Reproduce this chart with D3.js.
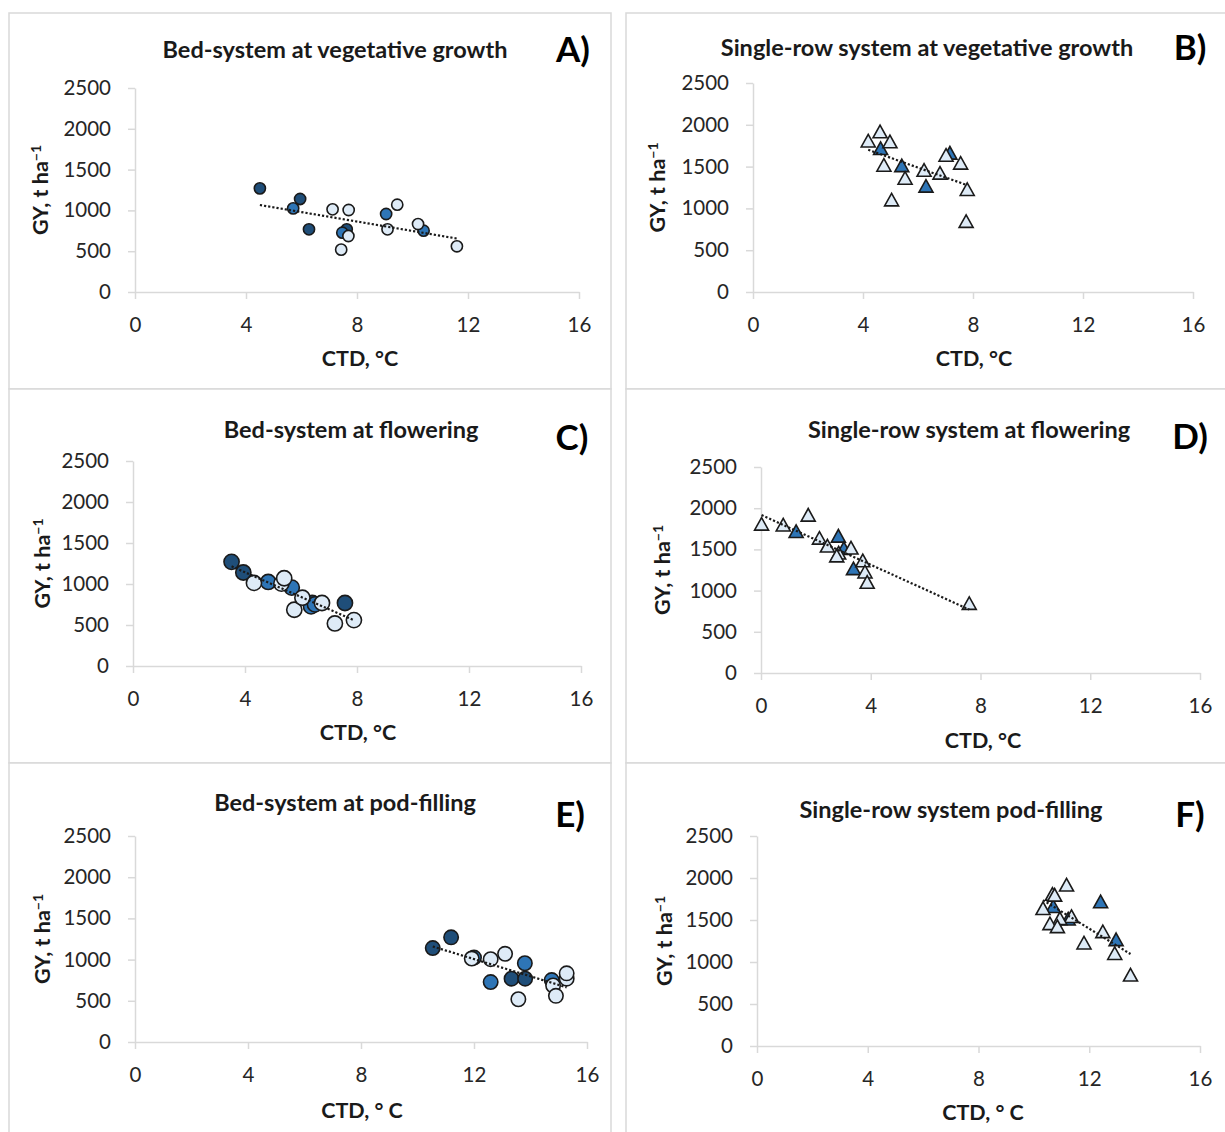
<!DOCTYPE html>
<html>
<head>
<meta charset="utf-8">
<script src="https://cdn.jsdelivr.net/npm/d3@7"></script>
<style>
  body { margin: 0; background: #fff; }
  svg { display: block; font-family: Lato, "Open Sans", sans-serif; }
</style>
</head>
<body>
<div id="chart"></div>
<script>
// bed system: 16 genotypes, grouped by shade
const bedGroup = ["dark", "dark", "dark", "dark", "mid", "mid", "mid", "mid",
  "light", "light", "light", "light", "light", "light", "light", "light"];
const bedGY = [1270, 1140, 768, 768, 1025, 727, 956, 751, 1013, 1005, 686, 519, 1070, 768, 833, 560];
const bedCTDveg = [4.5, 5.95, 6.27, 7.63, 5.7, 7.47, 9.05, 10.4, 7.12, 7.7, 7.69, 7.43, 9.45, 9.1, 10.2, 11.6];
const bedCTDflower = [3.52, 3.94, 7.57, 6.4, 4.83, 6.36, 5.67, 6.5, 4.32, 5.3, 5.76, 7.21, 5.4, 6.75, 6.05, 7.89];
const bedCTDpod = [11.19, 10.54, 13.33, 13.81, 12.0, 12.59, 13.8, 14.75, 11.92, 12.59, 14.8, 13.57, 13.1, 15.28, 15.28, 14.9];

// single-row system
const rowGroup = ["mid", "mid", "mid", "mid",
  "light", "light", "light", "light", "light", "light", "light", "light", "light", "light", "light", "light"];
const rowGY = [1720, 1665, 1515, 1270, 1920, 1810, 1800, 1640, 1545, 1520, 1460, 1425, 1365, 1230, 1105, 848];
const rowCTDveg = [4.64, 7.16, 5.41, 6.29, 4.62, 4.19, 4.98, 7.02, 7.55, 4.76, 6.22, 6.8, 5.53, 7.79, 5.04, 7.75];
const rowCTDflower = [1.28, 2.82, 3.02, 3.37, 1.72, 0.02, 0.81, 2.13, 2.42, 3.28, 2.83, 2.76, 3.71, 3.79, 3.87, 7.59];
const rowCTDpod = [12.41, 10.7, 11.24, 12.97, 11.18, 10.67, 10.75, 10.33, 11.36, 10.94, 10.58, 10.85, 12.49, 11.81, 12.92, 13.49];

const xTicks = [0, 4, 8, 12, 16];
const yTicks = [0, 500, 1000, 1500, 2000, 2500];

const colors = { dark: "#1f4e79", mid: "#2e75b6", light: "#deebf7" };
const groupOrder = ["dark", "mid", "light"];

const panels = [
  { letter: "A)", title: "Bed-system at vegetative growth", xLabel: "CTD, °C",
    x: bedCTDveg, y: bedGY, g: bedGroup, shape: "circle", size: 5.6,
    frame: [9, 13, 602, 376], plot: [135, 579, 88, 292],
    titlePos: [335, 50], letterPos: [573, 50], xLabelPos: [360, 358], yLabelX: 40 },
  { letter: "B)", title: "Single-row system at vegetative growth", xLabel: "CTD, °C",
    x: rowCTDveg, y: rowGY, g: rowGroup, shape: "triangle", size: 14,
    frame: [626, 13, 620, 376], plot: [753, 1193, 83, 292],
    titlePos: [927, 48], letterPos: [1190, 48], xLabelPos: [974, 358], yLabelX: 657 },
  { letter: "C)", title: "Bed-system at flowering", xLabel: "CTD, °C",
    x: bedCTDflower, y: bedGY, g: bedGroup, shape: "circle", size: 7.6,
    frame: [9, 389, 602, 374], plot: [133, 581, 461, 666],
    titlePos: [351, 430], letterPos: [572, 438], xLabelPos: [358, 732], yLabelX: 42 },
  { letter: "D)", title: "Single-row system at flowering", xLabel: "CTD, °C",
    x: rowCTDflower, y: rowGY, g: rowGroup, shape: "triangle", size: 14,
    frame: [626, 389, 620, 374], plot: [761, 1200, 467, 673],
    titlePos: [969, 430], letterPos: [1190, 437], xLabelPos: [983, 740], yLabelX: 662 },
  { letter: "E)", title: "Bed-system at pod-filling", xLabel: "CTD, ° C",
    x: bedCTDpod, y: bedGY, g: bedGroup, shape: "circle", size: 7.2,
    frame: [9, 763, 602, 400], plot: [135, 587, 836, 1042],
    titlePos: [345, 803], letterPos: [570, 815], xLabelPos: [362, 1110], yLabelX: 42 },
  { letter: "F)", title: "Single-row system pod-filling", xLabel: "CTD, ° C",
    x: rowCTDpod, y: rowGY, g: rowGroup, shape: "triangle", size: 14,
    frame: [626, 763, 620, 400], plot: [757, 1200, 836, 1046],
    titlePos: [951, 810], letterPos: [1190, 815], xLabelPos: [983, 1112], yLabelX: 664 }
];

const svg = d3.select("#chart").append("svg")
  .attr("width", 1225)
  .attr("height", 1132);

function fitLine(xs, ys) {
  let n = xs.length;
  let mx = d3.mean(xs), my = d3.mean(ys);
  let sxy = 0, sxx = 0;
  for (let i = 0; i < n; i++) {
    sxy += (xs[i] - mx) * (ys[i] - my);
    sxx += (xs[i] - mx) * (xs[i] - mx);
  }
  let b = sxy / sxx;
  return { b: b, a: my - b * mx };
}

function triangle(w) {
  let h = w * 0.9;
  return "M0," + (-h / 2) + "L" + (w / 2) + "," + (h / 2) + "L" + (-w / 2) + "," + (h / 2) + "Z";
}

panels.forEach(function(p) {
  let g = svg.append("g");

  g.append("rect")
    .attr("x", p.frame[0]).attr("y", p.frame[1])
    .attr("width", p.frame[2]).attr("height", p.frame[3])
    .attr("fill", "#fff")
    .attr("stroke", "#d9d9d9")
    .attr("stroke-width", 1.5);

  let x = d3.scaleLinear().domain([0, 16]).range([p.plot[0], p.plot[1]]);
  let y = d3.scaleLinear().domain([0, 2500]).range([p.plot[3], p.plot[2]]);

  let xAxis = g.append("g")
    .attr("transform", "translate(0," + p.plot[3] + ")")
    .call(d3.axisBottom(x).tickValues(xTicks).tickFormat(d3.format("d"))
      .tickSize(7).tickSizeOuter(0).tickPadding(18));
  let yAxis = g.append("g")
    .attr("transform", "translate(" + p.plot[0] + ",0)")
    .call(d3.axisLeft(y).tickValues(yTicks).tickFormat(d3.format("d"))
      .tickSize(7).tickSizeOuter(0).tickPadding(17));

  [xAxis, yAxis].forEach(function(ax) {
    ax.select(".domain").attr("stroke", "#d9d9d9").attr("stroke-width", 1.5);
    ax.selectAll(".tick line").attr("stroke", "#d9d9d9").attr("stroke-width", 1.5);
    ax.selectAll(".tick text")
      .attr("fill", "#262626")
      .style("font-family", "Lato, sans-serif")
      .style("font-size", "20.5px");
  });

  // points, drawn group by group so the light ones sit on top
  let pts = p.x.map(function(v, i) { return { cx: v, gy: p.y[i], grp: p.g[i] }; });
  pts.sort(function(a, b) { return groupOrder.indexOf(a.grp) - groupOrder.indexOf(b.grp); });

  let marks = g.append("g");
  if (p.shape === "circle") {
    marks.selectAll("circle")
      .data(pts)
      .enter()
      .append("circle")
      .attr("cx", d => x(d.cx))
      .attr("cy", d => y(d.gy))
      .attr("r", p.size)
      .attr("fill", d => colors[d.grp])
      .attr("stroke", "#1a1a1a")
      .attr("stroke-width", 1.6);
  } else {
    marks.selectAll("path")
      .data(pts)
      .enter()
      .append("path")
      .attr("d", triangle(p.size))
      .attr("transform", d => "translate(" + x(d.cx) + "," + y(d.gy) + ")")
      .attr("fill", d => colors[d.grp])
      .attr("stroke", "#1a1a1a")
      .attr("stroke-width", 1.6)
      .attr("stroke-linejoin", "miter");
  }

  // linear trendline over all points
  let fit = fitLine(p.x, p.y);
  let x0 = d3.min(p.x), x1 = d3.max(p.x);
  g.append("line")
    .attr("x1", x(x0)).attr("y1", y(fit.a + fit.b * x0))
    .attr("x2", x(x1)).attr("y2", y(fit.a + fit.b * x1))
    .attr("stroke", "#1a1a1a")
    .attr("stroke-width", 2.2)
    .attr("stroke-dasharray", "2.2,2");

  g.append("text")
    .attr("x", p.titlePos[0]).attr("y", p.titlePos[1])
    .attr("dy", "0.35em")
    .attr("text-anchor", "middle")
    .style("font-size", "23.5px")
    .style("font-weight", "bold")
    .attr("fill", "#1a1a1a")
    .text(p.title);

  g.append("text")
    .attr("x", p.letterPos[0]).attr("y", p.letterPos[1])
    .attr("dy", "0.35em")
    .attr("text-anchor", "middle")
    .style("font-size", "35px")
    .style("font-weight", "bold")
    .attr("fill", "#000")
    .text(p.letter);

  g.append("text")
    .attr("x", p.xLabelPos[0]).attr("y", p.xLabelPos[1])
    .attr("dy", "0.35em")
    .attr("text-anchor", "middle")
    .style("font-size", "21.5px")
    .style("font-weight", "bold")
    .attr("fill", "#1a1a1a")
    .text(p.xLabel);

  let yl = g.append("text")
    .attr("transform", "translate(" + p.yLabelX + "," + ((p.plot[2] + p.plot[3]) / 2) + ") rotate(-90)")
    .attr("dy", "0.35em")
    .attr("text-anchor", "middle")
    .style("font-size", "21.5px")
    .style("font-weight", "bold")
    .attr("fill", "#1a1a1a");
  yl.append("tspan").text("GY, t ha");
  yl.append("tspan")
    .attr("dy", "-0.45em")
    .style("font-size", "14px")
    .text("\u22121");
});
</script>
</body>
</html>
